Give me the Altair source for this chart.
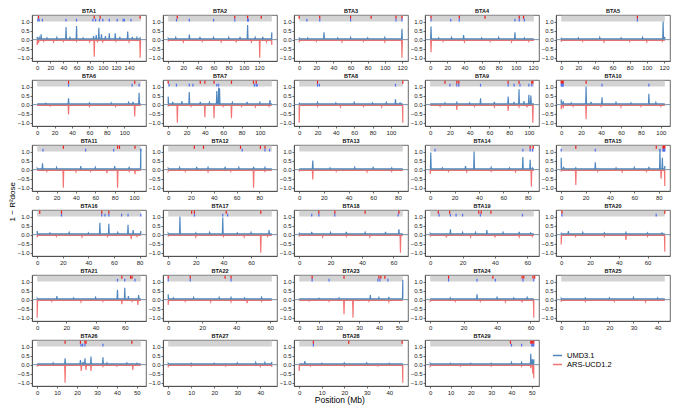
import altair as alt
import pandas as pd

CHROMS = [f"BTA{i}" for i in range(1, 30)]
LENGTHS = [158, 137, 121, 121, 121, 119, 113, 113, 105, 104,
           107, 91, 84, 85, 85, 81, 75, 66, 64, 72,
           71, 61, 52, 62, 43, 52, 45, 46, 51]

SERIES = ["UMD3.1", "ARS-UCD1.2"]
BASELINES = [0.05, -0.04]

UMD_SPIKES = [
    [(0, .15), (3, .12), (6, .3), (15, .1), (30, .12), (44, .7), (50, .12), (60, .75), (70, .1), (86, .2), (90, .25), (94, .65), (98, .3), (104, .2), (110, .35), (119, .35), (126, .15), (138, .45), (145, .15), (152, .12), (157, .1)],
    [(0, .08), (10, .12), (28, .28), (42, .15), (60, .12), (80, .12), (95, .15), (105, .8), (115, .12), (125, .15), (137, .4)],
    [(0, .12), (10, .1), (29, .4), (45, .1), (60, .12), (80, .1), (100, .12), (120, .6)],
    [(1, .72), (10, .1), (25, .12), (39, .25), (60, .1), (80, .12), (99, .4), (110, .1)],
    [(0, .1), (20, .1), (45, .12), (70, .1), (95, .12), (119, 1.0), (121, .15)],
    [(10, .08), (36, .35), (60, .1), (85, .1), (105, .12), (110, .15), (117, .65)],
    [(0, .45), (5, .15), (15, .2), (23, .7), (35, .15), (45, .12), (53, .75), (55, .95), (56, .9), (70, .12), (86, .15), (100, .12), (111, .25)],
    [(0, .1), (20, .12), (40, .1), (60, .12), (80, .1), (95, .12), (105, .3), (110, .1)],
    [(0, .05), (15, .1), (27, .12), (40, .1), (51, .35), (65, .15), (79, .45), (85, .15), (90, .85), (95, .2), (100, .55), (102, .5)],
    [(0, .28), (2, .2), (10, .1), (25, 1.0), (30, .15), (41, .4), (55, .12), (70, .1), (88, .6), (95, .12)],
    [(0, .08), (5.5, .35), (20, .12), (45, .2), (60, .12), (80, .2), (95, .15), (107, 1.15)],
    [(0, .08), (10, .12), (25, .15), (35, .12), (50, .15), (62, .12), (75, .15), (85, .12)],
    [(0, .05), (11, .5), (25, .1), (45, .12), (60, .15), (75, .1)],
    [(0.5, .95), (10, .1), (29, .2), (36, 1.0), (50, .12), (65, .1), (76, .7), (82, .55), (84, .1)],
    [(0, .65), (2, .15), (12, .1), (28, .4), (45, .1), (60, .12), (72, .15), (81, 1.1), (83, .65), (85, .2)],
    [(0, .2), (10, .1), (25, .12), (40, .1), (49, .65), (56, .6), (63, .12), (71, .55), (75, .25), (81, .2)],
    [(0, .08), (8.5, 1.0), (20, .1), (30, .12), (39.5, .95), (50, .1), (60, .12), (73, .25)],
    [(0, .1), (8, .15), (20, .12), (30, .15), (42, .12), (55, .15), (63.5, .3)],
    [(0, .08), (12.5, .3), (20, .12), (28, .12), (35, .25), (45, .12), (55, .15), (62, .1)],
    [(0, .1), (5, .2), (15, .12), (30, .1), (45, .12), (60, .1), (70, .1)],
    [(0, .08), (13.5, .2), (25, .1), (40, .12), (55, .55), (60, .65), (62.5, .2), (69.5, .25)],
    [(0, .3), (3, .1), (15, .12), (30, .12), (37, .12), (45, .1), (55, .12)],
    [(0, .05), (10, .08), (20, .1), (35.7, .25), (40, .12), (45, .15), (52, 1.1)],
    [(0, .05), (12, .1), (28, .3), (40, .12), (50, .1), (58, .12)],
    [(0, .08), (10, .1), (20, .1), (30, .12), (40, .1)],
    [(0, .05), (8, .1), (14, .35), (21.7, .25), (23, .15), (24, .35), (27, .45), (33, .4), (35, .1), (45, .1), (50, .08)],
    [(0, .08), (10, .08), (20, .08), (30, .1), (38, .12), (42, .12), (45, .15)],
    [(0, .05), (2.5, .2), (10, .08), (20, .1), (30, .1), (40, .08)],
    [(0, .08), (10, .08), (20, .08), (30, .08), (40, .12), (45, .12), (49.5, .6), (50.3, .3), (51, .3)],
]

ARS_SPIKES = [
    [(0, -.3), (2, -.2), (10, -.1), (25, -.12), (40, -.1), (60, -.1), (80, -.12), (87, -.95), (92, -.15), (100, -.12), (120, -.1), (140, -.12), (157, -1.0)],
    [(0, -.1), (20, -.12), (45, -.1), (70, -.12), (90, -.15), (110, -.12), (121, -1.0), (130, -.12), (137, -.3)],
    [(0, -.15), (20, -.1), (50, -.12), (75, -.1), (100, -.12), (120, -1.0)],
    [(1, -.7), (15, -.1), (40, -.12), (70, -.1), (95, -.12), (115, -.1)],
    [(0, -.12), (25, -.1), (50, -.12), (80, -.1), (100, -.12), (118, -.1)],
    [(15, -.08), (36, -.55), (60, -.1), (90, -.1), (112, -.65)],
    [(0, -.1), (10, -1.0), (25, -.1), (40, -.7), (50, -.75), (60, -.1), (69, -.75), (80, -.1), (95, -.12), (110, -.1)],
    [(0, -1.0), (20, -.1), (45, -.12), (70, -.1), (90, -.12), (113, -1.0)],
    [(10, -.1), (27, -.3), (45, -.1), (65, -.12), (79, -.35), (90, -.12), (98, -.15), (104, -1.0)],
    [(0, -.25), (2, -.2), (12, -.1), (25, -.8), (40, -.1), (60, -.12), (80, -.1), (100, -.1)],
    [(10, -.1), (27, -1.0), (40, -.12), (55, -.1), (72, -.2), (83, -1.0), (95, -.1), (101, -.25)],
    [(0, -.08), (15, -.1), (35, -.12), (55, -.1), (75, -1.0), (85, -.1)],
    [(0, -.1), (11, -.55), (30, -.1), (55, -.12), (75, -.1)],
    [(0, -.25), (15, -.1), (30, -.12), (50, -.1), (70, -.12), (83, -.95)],
    [(0, -.1), (12, -.85), (30, -.1), (50, -.12), (70, -.1), (82, -.5), (85, -.9)],
    [(0, -.15), (15, -.1), (35, -.12), (55, -.1), (73.5, -.25), (78, -.1)],
    [(0, -.1), (20, -.12), (40, -.1), (55, -.12), (67, -1.0), (72, -.1)],
    [(0, -.1), (15, -.12), (30, -.1), (45, -.12), (64.5, -1.0)],
    [(0, -.1), (10, -.15), (25, -.12), (40, -.15), (55, -.12), (63, -.1)],
    [(0, -.55), (10, -.1), (30, -.1), (45, -.3), (60, -.1), (72, -.95)],
    [(0, -1.0), (10, -.1), (30, -.12), (45, -.1), (58, -.25), (65, -.1), (69, -.3)],
    [(0, -.3), (10, -.1), (25, -.12), (37, -.12), (46.5, -.2), (55, -.1)],
    [(5, -.08), (15, -.1), (22.5, -.8), (27, -1.0), (35, -.1), (45, -.12)],
    [(0, -.08), (15, -.1), (30, -.1), (45, -.12), (55, -.15), (62, -1.0)],
    [(0, -.12), (10, -.1), (22, -.1), (35, -.12)],
    [(0, -.1), (14, -1.0), (22.1, -.35), (24.5, -.3), (27, -.35), (33, -.1), (40, -.08), (48, -.3)],
    [(0, -.15), (10, -.08), (25, -.08), (40, -.1), (45, -.12)],
    [(0, -.35), (5, -.08), (20, -.08), (35, -.08), (46, -1.0)],
    [(0, -.08), (15, -.08), (30, -.08), (45, -.1), (49.5, -.2), (50.5, -.5), (51, -.75)],
]

RED_MARKS = [
    [2, 87, 96, 157], [12, 88, 105, 123], [0, 24, 60, 84, 113, 120], [1, 34, 64, 104, 109], [89],
    [36, 112], [0, 35, 40, 50, 69, 93, 96], [20, 113], [15, 27, 29, 79, 90, 103, 104], [0, 0.7, 1.4, 2, 25],
    [27, 83, 85, 101], [23, 31, 63.5, 81, 85], [], [82, 84.5], [12, 78, 83.5, 84, 84.5, 85],
    [2, 19, 50.5, 56], [17, 19, 42, 67], [12.5, 22.7, 42, 63.5], [5, 12, 30, 31.5, 37.5], [0.5, 72],
    [58, 64, 65], [0, 13, 33.5, 37], [6.5, 22.5, 40, 41, 43], [11, 37.5, 55, 56, 61.5, 62.5], [],
    [14, 21.7, 24, 24.5, 47.5], [], [6.3, 22, 45.7], [39.5, 49.5, 50, 50.5, 51],
]

BLUE_MARKS = [
    [1, 3, 8, 44, 60, 85, 89, 95, 100, 110, 122, 131, 133, 143], [11, 28, 60, 88, 105, 106], [9, 24, 60, 113, 120], [1, 24, 34, 99, 104, 110], [89],
    [36, 109, 117], [1, 9, 23, 27, 53, 55, 94, 96, 97], [20, 22, 105], [20, 27, 29, 51, 79, 85, 91, 100, 103], [0, 0.7, 1.4, 2, 41, 88],
    [6, 50, 79, 107], [65, 85, 89], [], [4, 76, 82, 84], [0, 28, 81, 83.5, 84, 84.5, 85],
    [19, 50.5, 53, 56, 66, 71, 81], [19, 39.5, 43], [8, 12.5, 22.7, 63], [5.5, 12.5, 16, 20, 31, 57], [0.5, 66],
    [55, 60, 67], [0, 13, 37], [6.5, 15, 39.5, 40.5, 44.5], [11, 28, 39, 55.5, 62], [],
    [22, 22.8, 24, 33], [], [6.3], [40, 45, 50, 50.5, 51],
]

Y_TICKS = [-1.0, -0.5, 0.0, 0.5, 1.0]
BLUE, RED = "#4680bb", "#f26c6c"
FONT = "Liberation Sans"


def line_points(spikes, base, L):
    d = L * 0.004
    pts = [(0, base)]
    for p, h in sorted(spikes):
        pts += [(max(0, p - d), base), (p, h), (min(L, p + d), base)]
    pts.append((L, base))
    return pts


panels = []
for i, c in enumerate(CHROMS):
    L = LENGTHS[i]
    rows = []
    for s, spikes, b in zip(SERIES, [UMD_SPIKES[i], ARS_SPIKES[i]], BASELINES):
        for k, (x, y) in enumerate(line_points(spikes, b, L)):
            rows.append({"series": s, "pos": x, "val": y, "order": k})
    ldf = pd.DataFrame(rows)
    step = 20 if L >= 60 else 10
    ticks = list(range(0, int(L) + 1, step))
    xscale = alt.Scale(domain=[-0.05 * L, 1.05 * L], nice=False, zero=False)
    xaxis = alt.Axis(values=ticks, format="d", title=None, labelOverlap=False)
    yscale = alt.Scale(domain=[-1.18, 1.36], nice=False, zero=False)
    yaxis = alt.Axis(values=Y_TICKS, format=".1f", title=None, labelOverlap=False)

    strip = alt.Chart(pd.DataFrame({"s": [0], "e": [L]})).mark_rect(color="#d3d3d3").encode(
        x=alt.X("s:Q", scale=xscale, axis=xaxis), x2="e:Q",
        y=alt.datum(1.0, scale=yscale, axis=yaxis), y2=alt.datum(1.32))
    layers = [strip]
    if RED_MARKS[i]:
        layers.append(alt.Chart(pd.DataFrame({"p": RED_MARKS[i]})).mark_rule(
            color="#ee1c1c", strokeWidth=1.2).encode(
            x=alt.X("p:Q", scale=xscale, axis=xaxis), y=alt.datum(1.15, axis=yaxis), y2=alt.datum(1.32)))
    if BLUE_MARKS[i]:
        layers.append(alt.Chart(pd.DataFrame({"p": BLUE_MARKS[i]})).mark_rule(
            color="#4f6ff0", strokeWidth=1.2).encode(
            x=alt.X("p:Q", scale=xscale, axis=xaxis), y=alt.datum(1.0, axis=yaxis), y2=alt.datum(1.15)))
    lines = alt.Chart(ldf).mark_line(strokeWidth=1.15, opacity=0.95).encode(
        x=alt.X("pos:Q", scale=xscale, axis=xaxis),
        y=alt.Y("val:Q", scale=yscale, axis=yaxis),
        order="order:Q",
        color=alt.Color("series:N",
                        scale=alt.Scale(domain=SERIES, range=[BLUE, RED]),
                        legend=alt.Legend(title=None, orient="none", legendX=520, legendY=335,
                                          symbolType="stroke", symbolStrokeWidth=1.5,
                                          symbolSize=80, labelFontSize=7.5, labelFont=FONT,
                                          rowPadding=0)))
    zero = alt.Chart(pd.DataFrame({"z": [0.0]})).mark_rule(color="#5b7590", strokeWidth=0.8).encode(
        y=alt.Y("z:Q", scale=yscale, axis=yaxis))
    layers += [lines, zero]
    panel = alt.layer(*layers).properties(
        width=114, height=46,
        title=alt.TitleParams(c, fontSize=5.5, fontWeight="bold", offset=1, font=FONT, color="#111"))
    panels.append(panel)

grid = alt.concat(*panels, columns=5, spacing={"row": 2, "column": 0}).resolve_scale(x="independent")
grid = grid.properties(title=alt.TitleParams("1 − R²dose", orient="left", anchor="middle",
                                            fontSize=8, fontWeight="normal", font=FONT, offset=0))
chart = alt.vconcat(grid).properties(
    title=alt.TitleParams("Position (Mb)", orient="bottom", anchor="middle", fontSize=8.5,
                          fontWeight="normal", font=FONT, offset=1),
    padding={"left": 0, "top": 0, "right": 1, "bottom": 1},
).configure_view(stroke="#444", strokeWidth=0.8).configure_axis(
    labelOverlap=False, labelFlush=False, labelBound=False, grid=False, labelFontSize=6,
    tickSize=2, labelPadding=1, domainColor="#444", tickColor="#444",
    labelColor="#222", labelFont=FONT, domainWidth=0.8, tickWidth=0.8)

chart.save("out.html", embed_options={"renderer": "svg", "actions": False})
